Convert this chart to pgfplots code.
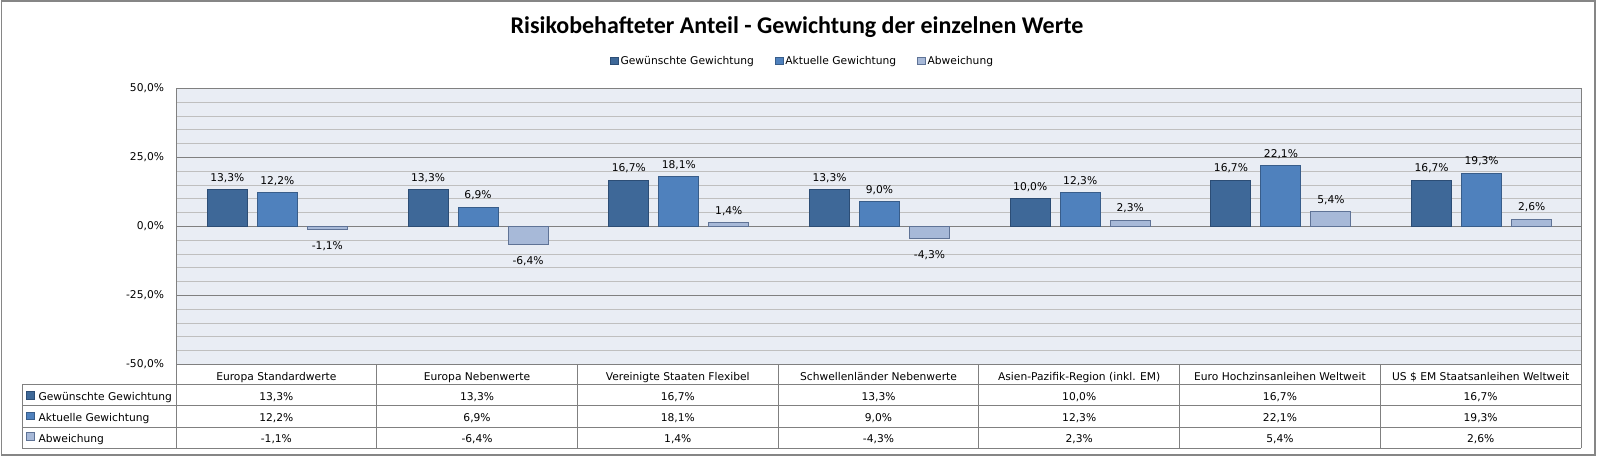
\documentclass[border=0pt]{standalone}
\usepackage{fontspec}
\setmainfont{DejaVu Sans}
\newfontfamily\titlefont{Carlito}
\usepackage{pgfplots}
\usepackage{pgfplotstable}
\pgfplotsset{compat=1.18}

\definecolor{cG}{RGB}{62,104,152}
\definecolor{cGb}{RGB}{44,77,117}
\definecolor{cA}{RGB}{79,129,189}
\definecolor{cAb}{RGB}{56,93,138}
\definecolor{cD}{RGB}{167,185,216}
\definecolor{cDb}{RGB}{95,115,150}
\definecolor{plotbg}{RGB}{233,237,244}
\definecolor{gridminor}{RGB}{191,191,191}
\definecolor{gridmajor}{RGB}{128,128,128}
\definecolor{framec}{RGB}{134,134,134}

% Gewichtungen in Prozent
\pgfplotstableread{
x g a d
0 13.3 12.2 -1.1
1 13.3 6.9 -6.4
2 16.7 18.1 1.4
3 13.3 9.0 -4.3
4 10.0 12.3 2.3
5 16.7 22.1 5.4
6 16.7 19.3 2.6
}\data

\newcommand{\smallfont}{\fontsize{10.7bp}{12.8bp}\selectfont}

\begin{document}
\begin{tikzpicture}
\begin{axis}[
    scale only axis,
    width=1405bp, height=276bp,
    xmin=-0.5, xmax=6.5, ymin=-50, ymax=50,
    clip=false,
    font=\smallfont,
    /pgf/number format/.cd, fixed, fixed zerofill, precision=1, use comma,
    assume math mode=true,
    /pgfplots/.cd,
    xtick={0,...,6},
    xticklabels={Europa Standardwerte, Europa Nebenwerte, Vereinigte Staaten Flexibel,
        Schwellenländer Nebenwerte, Asien-Pazifik-Region (inkl. EM),
        Euro Hochzinsanleihen Weltweit, US \$ EM Staatsanleihen Weltweit},
    xticklabel style={anchor=base, inner sep=0pt, yshift=-16bp},
    ytick={-50,-25,0,25,50},
    minor y tick num=4,
    yticklabel={\pgfmathprintnumber{\tick}\%},
    yticklabel style={xshift=-8.5bp},
    ymajorgrids, yminorgrids,
    major grid style={gridmajor, line width=1bp},
    minor grid style={gridminor, line width=1bp},
    major tick length=0pt, minor tick length=0pt,
    axis line style={gridmajor, line width=1bp},
    axis background/.style={fill=plotbg},
    legend columns=3,
    legend style={draw=none, fill=none, font=\smallfont,
        at={(0.446,1.0996)}, anchor=center,
        /tikz/every even column/.append style={column sep=19bp}},
    legend image code/.code={\draw[#1, line width=0.8bp] (0bp,-3.8bp) rectangle (7.6bp,3.8bp);},
]
\addplot[ybar, bar width=40bp, bar shift=-49bp, fill=cG, draw=cGb, line width=1bp,
    nodes near coords={\pgfmathprintnumber{\pgfplotspointmeta}\%},
    nodes near coords style={font=\smallfont, inner xsep=0pt, inner ysep=8bp,
        text height=11.7bp, text depth=0bp, xshift=-49bp}]
    table[x=x, y=g] {\data};
\addplot[ybar, bar width=40bp, bar shift=1bp, fill=cA, draw=cAb, line width=1bp,
    nodes near coords={\pgfmathprintnumber{\pgfplotspointmeta}\%},
    nodes near coords style={font=\smallfont, inner xsep=0pt, inner ysep=8bp,
        text height=11.7bp, text depth=0bp, xshift=1bp}]
    table[x=x, y=a] {\data};
\addplot[ybar, bar width=40bp, bar shift=51bp, fill=cD, draw=cDb, line width=1bp,
    nodes near coords={\pgfmathprintnumber{\pgfplotspointmeta}\%},
    nodes near coords style={font=\smallfont, inner xsep=0pt, inner ysep=8bp,
        text height=11.7bp, text depth=0bp, xshift=51bp}]
    table[x=x, y=d] {\data};
\legend{Gewünschte Gewichtung, Aktuelle Gewichtung, Abweichung}

% Datentabelle unter dem Diagramm
\addplot[draw=none, mark=none, forget plot, point meta=explicit,
    nodes near coords={\pgfmathprintnumber{\pgfplotspointmeta}\%},
    nodes near coords align={anchor=base},
    nodes near coords style={font=\smallfont, inner sep=0pt}]
    table[x=x, y expr=-63.2, meta=g] {\data};
\addplot[draw=none, mark=none, forget plot, point meta=explicit,
    nodes near coords={\pgfmathprintnumber{\pgfplotspointmeta}\%},
    nodes near coords align={anchor=base},
    nodes near coords style={font=\smallfont, inner sep=0pt}]
    table[x=x, y expr=-70.7, meta=a] {\data};
\addplot[draw=none, mark=none, forget plot, point meta=explicit,
    nodes near coords={\pgfmathprintnumber{\pgfplotspointmeta}\%},
    nodes near coords align={anchor=base},
    nodes near coords style={font=\smallfont, inner sep=0pt}]
    table[x=x, y expr=-78.1, meta=d] {\data};

% Tabellenlinien
\draw[gridmajor, line width=1bp] (axis cs:-1.267,-57.4) -- (axis cs:6.5,-57.4);
\draw[gridmajor, line width=1bp] (axis cs:-1.267,-65.0) -- (axis cs:6.5,-65.0);
\draw[gridmajor, line width=1bp] (axis cs:-1.267,-72.8) -- (axis cs:6.5,-72.8);
\draw[gridmajor, line width=1bp] (axis cs:-1.267,-80.4) -- (axis cs:6.5,-80.4);
\draw[gridmajor, line width=1bp] (axis cs:-1.267,-57.4) -- (axis cs:-1.267,-80.4);
\pgfplotsinvokeforeach{-0.5,0.5,1.5,2.5,3.5,4.5,5.5,6.5}{
    \draw[gridmajor, line width=1bp] (axis cs:#1,-50) -- (axis cs:#1,-80.4);
}
% Zeilenbeschriftungen
\draw[cGb, fill=cG, line width=0.8bp] ([xshift=4.7bp,yshift=1.9bp]axis cs:-1.267,-63.2) rectangle ++(7.4bp,7.4bp);
\draw[cAb, fill=cA, line width=0.8bp] ([xshift=4.7bp,yshift=1.9bp]axis cs:-1.267,-70.7) rectangle ++(7.4bp,7.4bp);
\draw[cDb, fill=cD, line width=0.8bp] ([xshift=4.7bp,yshift=1.9bp]axis cs:-1.267,-78.1) rectangle ++(7.4bp,7.4bp);
\node[anchor=base west, inner sep=0pt, font=\smallfont] at ([xshift=16.3bp]axis cs:-1.267,-63.2) {Gewünschte Gewichtung};
\node[anchor=base west, inner sep=0pt, font=\smallfont] at ([xshift=16.3bp]axis cs:-1.267,-70.7) {Aktuelle Gewichtung};
\node[anchor=base west, inner sep=0pt, font=\smallfont] at ([xshift=16.3bp]axis cs:-1.267,-78.1) {Abweichung};

% Titel
\node[anchor=base, font=\titlefont\bfseries\fontsize{24bp}{28bp}\selectfont]
    at (axis description cs:0.442,1.201) {Risikobehafteter Anteil - Gewichtung der einzelnen Werte};

% Rahmen und Bildgroesse
\draw[framec, line width=1.5bp] ([xshift=-174.5bp,yshift=-90.5bp]rel axis cs:0,0)
    rectangle ([xshift=14bp,yshift=87.5bp]rel axis cs:1,1);
\coordinate (bbsw) at ([xshift=-176bp,yshift=-91.5bp]rel axis cs:0,0);
\coordinate (bbne) at ([xshift=16bp,yshift=88.5bp]rel axis cs:1,1);
\end{axis}
\pgfresetboundingbox
\path (bbsw) rectangle (bbne);
\end{tikzpicture}
\end{document}
